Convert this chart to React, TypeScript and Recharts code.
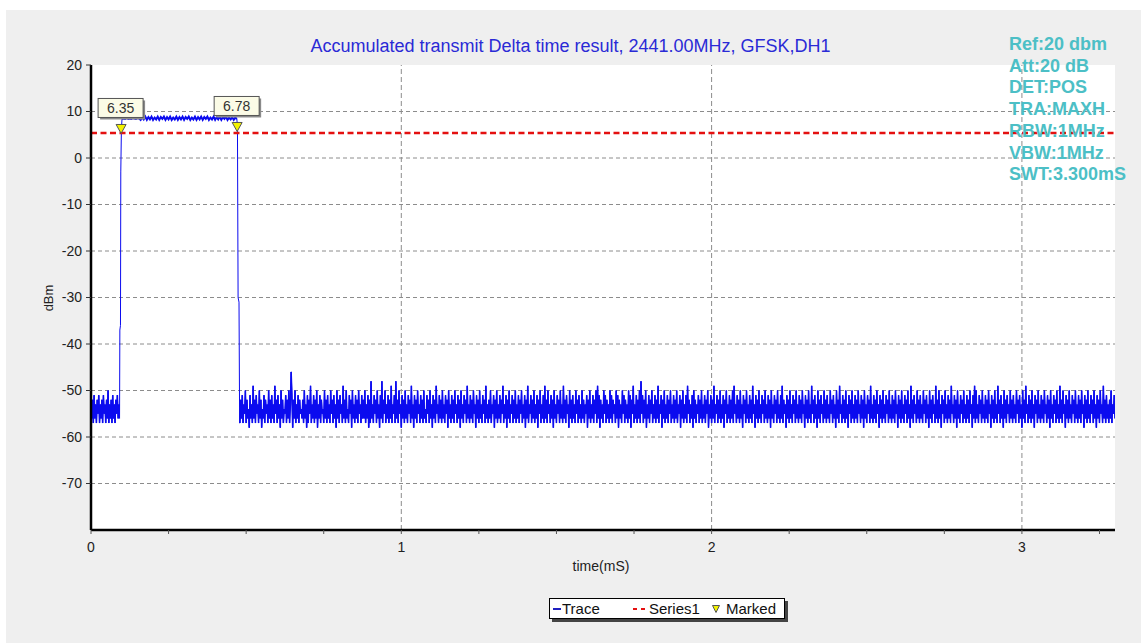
import React from "react";
import {
  ComposedChart,
  Line,
  Scatter,
  XAxis,
  YAxis,
  CartesianGrid,
  ReferenceLine,
} from "recharts";

const title = "Accumulated transmit Delta time result, 2441.00MHz, GFSK,DH1";
const infoLines = ["Ref:20 dbm", "Att:20 dB", "DET:POS", "TRA:MAXH", "RBW:1MHz", "VBW:1MHz", "SWT:3.300mS"];

const yTicks = [-70, -60, -50, -40, -30, -20, -10, 0, 10, 20];
const xTicks = [0, 0.25, 0.5, 0.75, 1, 1.25, 1.5, 1.75, 2, 2.25, 2.5, 2.75, 3, 3.25];
const gridY = [-70, -60, -50, -40, -30, -20, -10, 0, 10];
const gridX = [1, 2, 3];

// sweep points are 0.0025 mS apart
const STEP = 0.0025;

// noise floor before the burst, 0 .. 0.09 mS
const preNoise = [
  -50, -56, -52, -57, -51, -56, -53, -57, -52, -55, -51, -57, -53, -56, -52, -57, -51, -55, -53,
  -57, -52, -56, -50, -57, -53, -56, -52, -57, -51, -56, -53, -57, -52, -55, -51, -56, -53,
];

const riseEdge = [
  { t: 0.092, v: -56 },
  { t: 0.093, v: -37 },
  { t: 0.095, v: -36 },
  { t: 0.096, v: -3 },
  { t: 0.098, v: 6.3 },
];

// burst top, 0.10 .. 0.47 mS every 0.005 mS
const topLevel = [
  8.4, 8.5, 8.4, 8.6, 8.4, 8.5, 8.4, 8.6, 8.5, 8.4, 8.6, 8.5,
  8.2, 8.8, 8.3, 8.9, 8.2, 8.8, 8.3, 8.9, 8.2, 8.7, 8.3, 8.9, 8.2, 8.8, 8.4, 8.9, 8.2, 8.8,
  8.3, 8.9, 8.2, 8.7, 8.3, 8.9, 8.2, 8.8, 8.3, 8.9, 8.2, 8.8, 8.4, 8.9, 8.2, 8.7, 8.3, 8.9,
  8.2, 8.8, 8.3, 8.9, 8.2, 8.8, 8.4, 8.9, 8.2, 8.7, 8.3, 8.9, 8.2, 8.8, 8.3, 8.9, 8.2, 8.8,
  8.4, 8.9, 8.2, 8.7, 8.3, 8.8, 8.2, 8.7, 8.4,
];

const fallEdge = [
  { t: 0.472, v: 6.8 },
  { t: 0.474, v: -30 },
  { t: 0.477, v: -31 },
  { t: 0.479, v: -57 },
];

// noise floor after the burst, 0.48 .. 3.30 mS (one row = 0.1 mS)
const floorNoise = [
  -57, -52, -56, -51, -57, -53, -55, -50, -57, -52, -56, -54, -58, -51, -56, -53, -57, -49, -56, -52, -57, -51, -55, -53, -57, -50, -56, -52, -58, -54, -56, -51, -57, -52, -55, -53, -57, -50, -56, -52,
  -57, -51, -56, -53, -57, -49, -55, -52, -57, -51, -56, -53, -58, -50, -56, -52, -57, -54, -55, -51, -57, -52, -56, -50, -57, -53, -46, -51, -58, -52, -56, -50, -57, -53, -56, -51, -57, -52, -55, -54,
  -56, -52, -57, -50, -56, -53, -58, -51, -57, -52, -55, -49, -57, -53, -56, -51, -57, -52, -56, -50, -58, -53, -56, -51, -57, -52, -55, -54, -57, -50, -56, -52, -57, -51, -56, -53, -57, -50, -55, -52,
  -57, -51, -56, -53, -58, -50, -56, -52, -57, -51, -55, -53, -57, -49, -56, -52, -57, -50, -56, -54, -57, -51, -55, -52, -58, -50, -56, -53, -57, -51, -56, -52, -57, -50, -55, -53, -57, -51, -56, -52,
  -56, -50, -57, -53, -56, -51, -58, -52, -57, -48, -56, -53, -57, -51, -55, -52, -57, -50, -56, -53, -58, -51, -56, -48, -57, -52, -55, -50, -57, -53, -56, -51, -57, -52, -56, -49, -57, -53, -55, -51,
  -57, -48, -56, -52, -57, -50, -55, -53, -58, -51, -56, -52, -57, -50, -56, -53, -57, -51, -55, -52, -57, -49, -56, -53, -58, -51, -56, -52, -57, -50, -55, -53, -57, -51, -56, -52, -57, -50, -56, -54,
  -57, -51, -55, -52, -57, -50, -56, -53, -58, -51, -56, -52, -57, -49, -55, -53, -57, -51, -56, -52, -57, -50, -56, -53, -57, -51, -55, -52, -58, -50, -56, -53, -57, -51, -56, -52, -57, -50, -55, -53,
  -57, -51, -56, -52, -58, -50, -56, -53, -57, -51, -55, -52, -57, -49, -56, -53, -57, -51, -56, -52, -57, -50, -55, -53, -58, -51, -56, -52, -57, -50, -56, -53, -57, -51, -55, -52, -57, -49, -56, -53,
  -57, -52, -56, -50, -57, -53, -55, -51, -58, -52, -56, -50, -57, -53, -56, -51, -57, -52, -55, -49, -57, -53, -56, -51, -58, -52, -56, -50, -57, -53, -55, -51, -57, -52, -56, -50, -57, -53, -56, -51,
  -57, -52, -55, -50, -57, -53, -56, -51, -58, -52, -56, -49, -57, -53, -55, -51, -57, -52, -56, -50, -57, -53, -56, -51, -58, -52, -55, -50, -57, -53, -56, -51, -57, -49, -56, -52, -57, -50, -55, -53,
  -57, -51, -56, -52, -58, -50, -56, -53, -57, -51, -55, -52, -57, -50, -56, -53, -57, -49, -56, -52, -57, -51, -55, -53, -58, -50, -56, -52, -57, -51, -56, -53, -57, -50, -55, -52, -57, -51, -56, -53,
  -57, -50, -56, -52, -57, -53, -55, -51, -58, -52, -56, -50, -57, -53, -56, -51, -57, -52, -55, -50, -57, -49, -56, -51, -58, -52, -56, -53, -57, -50, -55, -51, -57, -52, -56, -53, -57, -50, -56, -51,
  -57, -52, -55, -53, -57, -50, -56, -51, -58, -52, -56, -53, -57, -50, -55, -51, -57, -52, -56, -53, -57, -50, -56, -51, -58, -52, -55, -49, -57, -53, -56, -51, -57, -52, -56, -50, -57, -48, -55, -51,
  -57, -52, -56, -50, -58, -53, -56, -51, -57, -52, -55, -50, -57, -53, -56, -51, -57, -52, -56, -49, -57, -53, -55, -51, -58, -52, -56, -50, -57, -53, -56, -51, -57, -52, -55, -50, -57, -53, -56, -51,
  -57, -52, -56, -50, -57, -53, -55, -51, -58, -52, -56, -50, -57, -53, -56, -51, -57, -49, -55, -52, -57, -53, -56, -51, -58, -50, -56, -52, -57, -53, -55, -51, -57, -52, -56, -50, -57, -53, -56, -51,
  -57, -52, -55, -50, -58, -53, -56, -51, -57, -52, -56, -49, -57, -53, -55, -51, -57, -52, -56, -50, -57, -53, -56, -51, -58, -52, -55, -50, -57, -53, -56, -51, -57, -52, -56, -50, -57, -49, -55, -53,
  -57, -51, -56, -52, -57, -50, -56, -53, -58, -51, -55, -52, -57, -50, -56, -53, -57, -51, -56, -52, -57, -49, -55, -53, -58, -51, -56, -52, -57, -50, -56, -53, -57, -51, -55, -52, -57, -50, -56, -53,
  -57, -51, -56, -52, -58, -50, -56, -53, -57, -51, -55, -52, -57, -50, -56, -53, -57, -51, -56, -49, -57, -52, -55, -53, -58, -51, -56, -52, -57, -50, -56, -53, -57, -51, -55, -52, -57, -50, -56, -53,
  -57, -51, -56, -52, -57, -50, -55, -53, -58, -51, -56, -52, -57, -50, -56, -53, -57, -49, -55, -52, -57, -51, -56, -53, -58, -50, -56, -52, -57, -51, -55, -53, -57, -50, -56, -52, -57, -51, -56, -53,
  -57, -50, -55, -52, -57, -51, -56, -53, -58, -50, -56, -52, -57, -49, -55, -53, -57, -51, -56, -52, -57, -50, -56, -53, -58, -51, -55, -52, -57, -50, -56, -53, -57, -51, -56, -52, -57, -50, -55, -53,
  -57, -51, -56, -52, -58, -50, -56, -53, -57, -51, -55, -52, -57, -49, -56, -53, -57, -51, -56, -52, -57, -50, -55, -53, -58, -51, -56, -52, -57, -50, -56, -53, -57, -51, -55, -52, -57, -50, -56, -53,
  -57, -51, -56, -52, -57, -50, -55, -53, -58, -51, -56, -52, -57, -50, -56, -53, -57, -51, -55, -52, -57, -50, -56, -53, -58, -49, -56, -52, -57, -51, -55, -53, -57, -50, -56, -52, -57, -51, -56, -53,
  -57, -50, -55, -52, -57, -51, -56, -53, -58, -50, -56, -52, -57, -51, -55, -53, -57, -49, -56, -52, -57, -50, -56, -53, -58, -51, -55, -52, -57, -50, -56, -53, -57, -51, -56, -52, -57, -49, -55, -53,
  -57, -51, -56, -52, -58, -50, -56, -53, -57, -51, -55, -52, -57, -50, -56, -53, -57, -51, -56, -52, -57, -50, -55, -53, -58, -51, -56, -49, -57, -50, -56, -53, -57, -51, -55, -52, -57, -50, -56, -53,
  -57, -51, -56, -52, -57, -50, -55, -53, -58, -51, -56, -52, -57, -50, -56, -53, -57, -49, -55, -52, -57, -51, -56, -53, -58, -50, -56, -52, -57, -51, -55, -53, -57, -50, -56, -52, -57, -51, -56, -53,
  -57, -50, -55, -52, -57, -51, -56, -53, -58, -50, -56, -52, -57, -49, -55, -53, -57, -51, -56, -52, -57, -50, -56, -53, -58, -51, -55, -52, -57, -50, -56, -53, -57, -51, -56, -52, -57, -50, -55, -53,
  -57, -51, -56, -52, -58, -50, -56, -53, -57, -51, -55, -52, -57, -50, -56, -53, -57, -49, -56, -52, -57, -50, -55, -53, -58, -51, -56, -52, -57, -50, -56, -53, -57, -51, -55, -52, -57, -50, -56, -53,
  -57, -51, -56, -52, -57, -50, -55, -53, -58, -51, -56, -52, -57, -50, -56, -53, -57, -51, -55, -52, -57, -50, -56, -53, -58, -51, -56, -52, -57, -50, -55, -53, -57, -49, -56, -52, -57, -51, -56, -53,
  -57, -52, -56, -50, -57, -53, -55, -51, -56,
];

const thresholdLevel = 5.4;
const markers = [
  { t: 0.097, v: 6.35 },
  { t: 0.471, v: 6.78 },
];

const preSeg = preNoise.map((v, i) => ({ t: +(i * STEP).toFixed(4), v }));
const topSeg = topLevel.map((v, i) => ({ t: +(0.1 + i * 0.005).toFixed(3), v }));
const floorSeg = floorNoise.map((v, i) => ({ t: +(0.48 + i * STEP).toFixed(4), v }));
const trace = [...preSeg, ...riseEdge, ...topSeg, ...fallEdge, ...floorSeg];
const series1 = [
  { t: 0, v: thresholdLevel },
  { t: 3.3, v: thresholdLevel },
];

const FONT = "'Liberation Sans', Arial, sans-serif";
const TRACE_BLUE = "#0b0bef";

function MarkerShape(props: any) {
  const { cx, cy, payload } = props;
  return (
    <g>
      <rect x={cx - 21} y={cy - 28} width={45} height={19} fill="#8a8a8a" />
      <rect x={cx - 23} y={cy - 30} width={45} height={19} fill="#fbfbe6" stroke="#555" />
      <text x={cx - 0.5} y={cy - 20} textAnchor="middle" dominantBaseline="central" fontSize={14} fill="#333" fontFamily={FONT}>
        {payload.v.toFixed(2)}
      </text>
      <path d={`M${cx - 5},${cy - 4} L${cx + 5},${cy - 4} L${cx},${cy + 5} Z`} fill="#f2f200" stroke="#555" strokeWidth={1} />
    </g>
  );
}

export default function App() {
  return (
    <div style={{ position: "absolute", left: 0, top: 0, width: 1141, height: 643, background: "#fff", fontFamily: FONT }}>
      <div style={{ position: "absolute", left: 6, top: 10, width: 1135, height: 633, background: "#efefef" }} />
      <div style={{ position: "absolute", left: 0, top: 0 }}>
        <ComposedChart width={1141} height={643} margin={{ top: 65, right: 26, bottom: 83, left: 31 }}>
          <CartesianGrid horizontal={false} vertical={false} fill="#fff" />
          <XAxis
            type="number"
            dataKey="t"
            domain={[0, 3.3]}
            ticks={xTicks}
            allowDataOverflow
            height={30}
            tickFormatter={(v: number) => (Number.isInteger(v) ? String(v) : "")}
            tick={{ fill: "#222", fontSize: 14, fontFamily: FONT }}
            tickSize={4}
            tickMargin={8}
            axisLine={{ stroke: "#000", strokeWidth: 2.5 }}
            tickLine={{ stroke: "#555" }}
          />
          <YAxis
            type="number"
            dataKey="v"
            domain={[-80, 20]}
            ticks={yTicks}
            allowDataOverflow
            width={60}
            tick={{ fill: "#222", fontSize: 14, fontFamily: FONT }}
            tickSize={5}
            tickMargin={4}
            axisLine={{ stroke: "#000", strokeWidth: 2.5 }}
            tickLine={{ stroke: "#333" }}
          />
          {gridY.map((y) => (
            <ReferenceLine key={"gy" + y} y={y} stroke="#8c8c8c" strokeDasharray="4 3" />
          ))}
          {gridX.map((x) => (
            <ReferenceLine key={"gx" + x} x={x} stroke="#8c8c8c" strokeDasharray="5 3" />
          ))}
          <Line data={trace} dataKey="v" type="linear" stroke={TRACE_BLUE} strokeWidth={1} dot={false} isAnimationActive={false} />
          {/* the dense stretches of the same sweep, drawn a bit heavier so they read as solid bands */}
          <Line data={preSeg} dataKey="v" type="linear" stroke={TRACE_BLUE} strokeWidth={1.5} dot={false} isAnimationActive={false} legendType="none" />
          <Line data={topSeg} dataKey="v" type="linear" stroke={TRACE_BLUE} strokeWidth={2} dot={false} isAnimationActive={false} legendType="none" />
          <Line data={floorSeg} dataKey="v" type="linear" stroke={TRACE_BLUE} strokeWidth={1.5} dot={false} isAnimationActive={false} legendType="none" />
          <Line
            data={series1}
            dataKey="v"
            type="linear"
            stroke="#e41010"
            strokeWidth={2.5}
            strokeDasharray="6 3.5"
            dot={false}
            isAnimationActive={false}
          />
          <Scatter data={markers} dataKey="v" shape={MarkerShape} isAnimationActive={false} />
        </ComposedChart>
      </div>

      <div style={{ position: "absolute", left: 0, width: 1141, top: 35, textAlign: "center", fontSize: 18, color: "#2a2ad6", lineHeight: "22px" }}>
        {title}
      </div>

      <div style={{ position: "absolute", left: 1009, top: 34, color: "#4cbfc6", fontWeight: "bold", fontSize: 18, lineHeight: "21.7px", whiteSpace: "nowrap" }}>
        {infoLines.map((l) => (
          <div key={l}>{l}</div>
        ))}
      </div>

      <div style={{ position: "absolute", left: 48, top: 298, transform: "translate(-50%, -50%) rotate(-90deg)", fontSize: 13, color: "#222" }}>
        dBm
      </div>
      <div style={{ position: "absolute", left: 601, top: 566, transform: "translate(-50%, -50%)", fontSize: 14, color: "#222" }}>
        time(mS)
      </div>

      <div style={{ position: "absolute", left: 549, top: 598, width: 234, height: 19, background: "#fff", border: "1px solid #000", boxShadow: "3px 3px 0 #444", fontSize: 15, color: "#111" }}>
        <div style={{ position: "absolute", left: 3, top: 9, width: 8, height: 1.5, background: "#2020c0" }} />
        <div style={{ position: "absolute", left: 12, top: 0, lineHeight: "19px" }}>Trace</div>
        <div style={{ position: "absolute", left: 83, top: 9, width: 4, height: 2, background: "#e41010" }} />
        <div style={{ position: "absolute", left: 91, top: 9, width: 4, height: 2, background: "#e41010" }} />
        <div style={{ position: "absolute", left: 99, top: 0, lineHeight: "19px" }}>Series1</div>
        <svg style={{ position: "absolute", left: 162, top: 6 }} width={8} height={8}>
          <path d="M0.5,0.5 L7.5,0.5 L4,7.5 Z" fill="#f2f200" stroke="#555" strokeWidth={1} />
        </svg>
        <div style={{ position: "absolute", left: 176, top: 0, lineHeight: "19px" }}>Marked</div>
      </div>
    </div>
  );
}
